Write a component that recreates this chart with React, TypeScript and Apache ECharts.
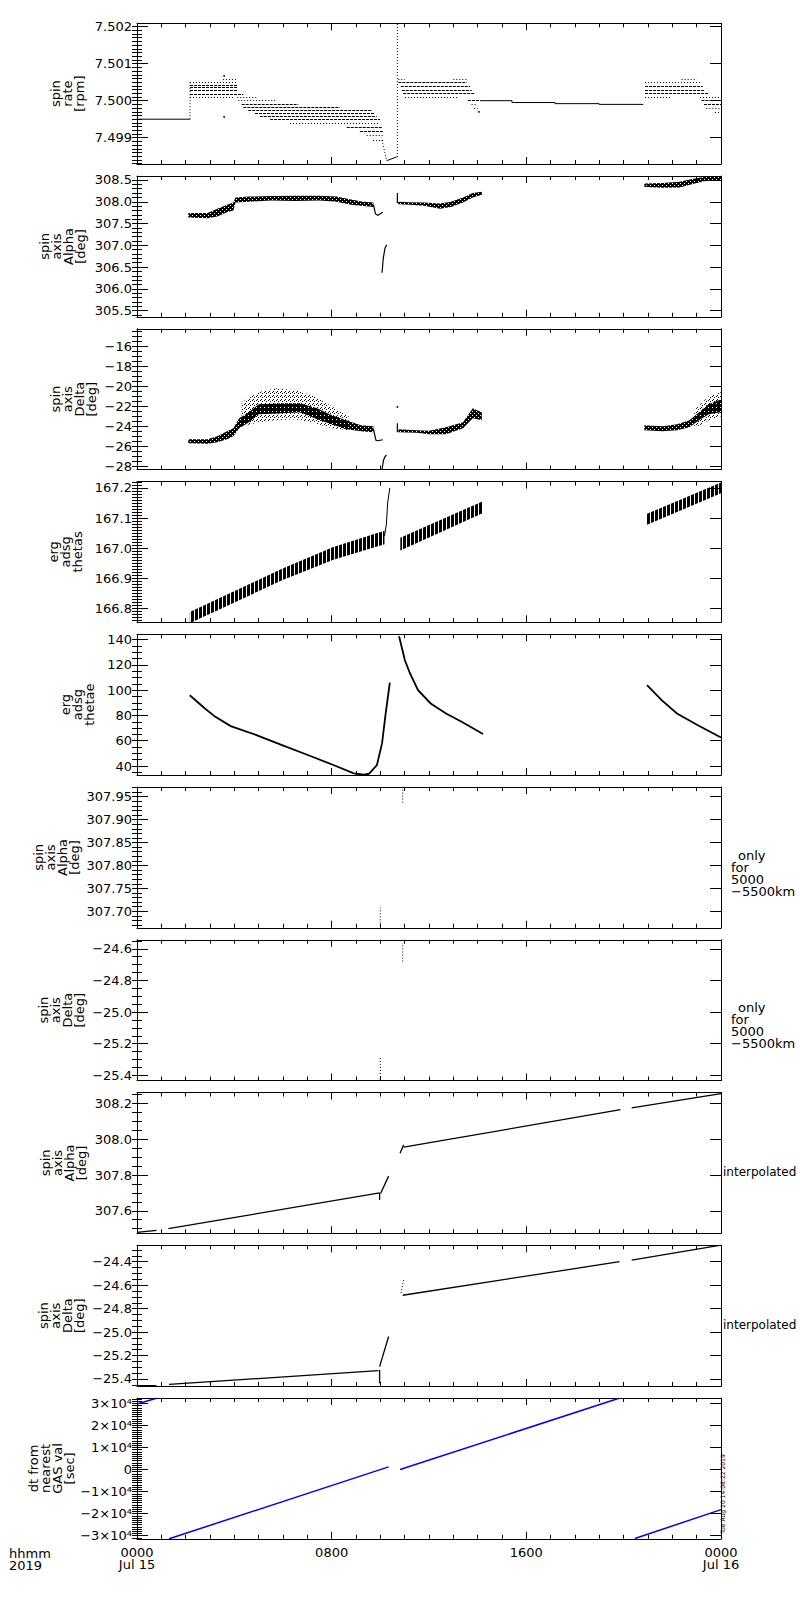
import React, { useEffect, useRef } from 'react';
import * as echarts from 'echarts';

// ---------- layout ----------
const GRID_LEFT = 137;
const GRID_WIDTH = 584;
const GRID_TOP0 = 23.3;
const GRID_STEP = 152.75;
const GRID_HEIGHT = 140.7;
const FONT = '"DejaVu Sans", sans-serif';

// ---------- time axis ----------
const timeTicks = [0, 8, 16, 24];
const timeLabels = ['0000\nJul 15', '0800', '1600', '0000\nJul 16'];

// ---------- panel 1: spin rate [rpm] ----------
const spinRateTicks = [7.499, 7.5, 7.501, 7.502];
const spinRateLabels = ['7.499', '7.500', '7.501', '7.502'];
const spinRateTrace = [
  [[0, 7.4995], [2.18, 7.4995]],
  [[14.1, 7.5], [15.41, 7.5], [15.41, 7.49995], [17.18, 7.49995], [17.18, 7.49992], [18.99, 7.49992], [18.99, 7.4999], [20.81, 7.4999]],
  [[10.26, 7.49838], [10.67, 7.49848]],
];
const spinRateDashed = [
  [2.18, 4.12, 7.50042], [2.18, 4.12, 7.50035], [2.18, 4.12, 7.50027], [2.18, 4.37, 7.50018],
  [4.3, 6.63, 7.4999], [4.37, 8.34, 7.49982], [4.57, 9.64, 7.49973], [4.85, 9.78, 7.49965],
  [5.05, 9.85, 7.49957], [5.47, 9.99, 7.49949], [8.62, 10.06, 7.49929], [9.16, 10.12, 7.49918],
  [10.74, 13.55, 7.50049], [10.84, 13.69, 7.50039], [10.88, 13.75, 7.50028], [10.94, 13.89, 7.5002],
  [13.6, 14.1, 7.5],
  [20.88, 23.25, 7.50039], [20.88, 23.33, 7.50028], [20.88, 23.47, 7.5002], [23.2, 24, 7.5], [23.3, 24, 7.4999],
];
const spinRateDotted = [
  [2.18, 4.12, 7.50051], [2.18, 3.96, 7.50008], [3.53, 4.11, 7.50059], [4.12, 4.92, 7.50008],
  [4.16, 5.74, 7.5], [6.29, 9.99, 7.49939], [9.44, 10.12, 7.49907], [9.7, 10.12, 7.49893],
  [10.74, 11.01, 7.50058], [13.0, 13.55, 7.50058], [11.01, 13.2, 7.50009], [13.75, 14.0, 7.4999],
  [13.85, 14.0, 7.4998], [20.88, 23.21, 7.50049], [22.38, 23.0, 7.50058], [20.88, 21.95, 7.50009],
  [23.14, 24, 7.50009], [23.4, 24, 7.4998], [23.75, 24, 7.4997],
];
const spinRateDottedPaths = [
  [[2.18, 7.4995], [2.18, 7.50051]],
  [[10.06, 7.49893], [10.12, 7.4988], [10.2, 7.49855], [10.26, 7.49838]],
  [[10.7, 7.49848], [10.7, 7.50209]],
];
const spinRateDots = [[3.58, 7.50067], [3.58, 7.49956], [14.05, 7.4997]];

// ---------- panel 2: spin axis Alpha ----------
const alphaTicks = [305.5, 306, 306.5, 307, 307.5, 308, 308.5];
const alphaLabels = ['305.5', '306.0', '306.5', '307.0', '307.5', '308.0', '308.5'];
const alphaBandA = [
  [2.11, 307.64, 307.74], [2.9, 307.62, 307.74], [3.3, 307.66, 307.84], [3.7, 307.76, 307.93],
  [3.96, 307.8, 307.98], [4.05, 307.98, 308.1], [4.6, 308.0, 308.12], [5.5, 308.03, 308.13],
  [6.5, 308.02, 308.14], [7.5, 308.03, 308.14], [8.2, 308.0, 308.12], [8.8, 307.93, 308.05],
  [9.3, 307.9, 308.0], [9.72, 307.88, 307.98],
];
const alphaBandC = [
  [10.74, 307.94, 308.0], [11.2, 307.93, 307.99], [11.8, 307.91, 307.98], [12.45, 307.84, 307.96],
  [12.9, 307.88, 308.0], [13.4, 307.98, 308.1], [13.8, 308.1, 308.2], [14.17, 308.16, 308.23],
];
const alphaBandD = [
  [20.85, 308.34, 308.42], [21.6, 308.32, 308.43], [22.3, 308.33, 308.46], [22.8, 308.4, 308.52],
  [23.3, 308.47, 308.57], [24, 308.5, 308.59],
];
const alphaTraces = [
  [[9.72, 307.93], [9.8, 307.72], [9.9, 307.69], [10.1, 307.76]],
  [[10.07, 306.37], [10.12, 306.7], [10.19, 306.93], [10.26, 307.01]],
  [[10.7, 307.97], [10.7, 308.2]],
  [[10.7, 307.99], [10.76, 307.97]],
];

// ---------- panel 3: spin axis Delta ----------
const deltaTicks = [-28, -26, -24, -22, -20, -18, -16];
const deltaLabels = ['\u221228', '\u221226', '\u221224', '\u221222', '\u221220', '\u221218', '\u221216'];
const deltaBandA = [
  [2.11, -25.7, -25.3], [2.9, -25.75, -25.3], [3.3, -25.6, -25.0], [3.7, -25.3, -24.5],
  [3.96, -25.0, -24.2], [4.2, -24.2, -23.2], [4.6, -23.6, -22.6], [5.0, -22.8, -21.8],
  [6.0, -22.7, -21.7], [6.7, -22.6, -21.7], [7.4, -23.3, -22.2], [8.0, -23.8, -22.9],
  [8.6, -24.3, -23.4], [9.2, -24.5, -23.9], [9.72, -24.6, -24.0],
];
const deltaCloudA = [
  [4.3, -24.0, -21.6], [5.0, -23.6, -20.6], [5.7, -23.4, -20.2], [6.5, -23.3, -20.4],
  [7.2, -23.6, -20.9], [8.0, -24.2, -22.0], [8.7, -24.4, -23.0],
];
const deltaBandC = [
  [10.74, -24.6, -24.3], [11.5, -24.65, -24.4], [12.0, -24.8, -24.45], [12.7, -24.8, -24.1],
  [13.4, -24.2, -23.6], [13.8, -23.2, -22.2], [14.17, -23.4, -22.6],
];
const deltaBandD = [
  [20.85, -24.4, -23.9], [21.6, -24.5, -24.0], [22.2, -24.4, -23.8], [22.7, -24.1, -23.4],
  [23.1, -23.4, -22.6], [23.5, -22.8, -21.8], [24, -22.6, -21.3],
];
const deltaCloudD = [[22.9, -24.2, -22.4], [23.5, -23.4, -21.0], [24, -23.0, -20.6]];
const deltaTraces = [
  [[9.72, -24.3], [9.82, -25.4], [9.9, -25.45], [10.1, -25.35]],
  [[10.07, -28.33], [10.13, -27.4], [10.2, -27.0], [10.26, -26.9]],
  [[10.7, -23.7], [10.7, -24.6]],
];
const deltaDots = [[10.7, -22.06]];

// ---------- panel 4: erg adsg thetas ----------
const thetasTicks = [166.8, 166.9, 167.0, 167.1, 167.2];
const thetasLabels = ['166.8', '166.9', '167.0', '167.1', '167.2'];
const thetasBand1 = [[2.17, 166.752, 166.789], [5.96, 166.894, 166.932], [8.07, 166.962, 167.004], [10.17, 167.013, 167.058]];
const thetasBand2 = [[10.82, 166.993, 167.035], [14.22, 167.117, 167.156]];
const thetasBand3 = [[20.96, 167.078, 167.114], [24, 167.182, 167.218]];
const thetasTraces = [[[10.17, 167.04], [10.25, 167.08], [10.3, 167.15], [10.39, 167.2]]];

// ---------- panel 5: erg adsg thetae ----------
const thetaeTicks = [40, 60, 80, 100, 120, 140];
const thetaeLabels = ['40', '60', '80', '100', '120', '140'];
const thetaeCurve1 = [
  [2.17, 96], [2.79, 85.5], [3.22, 78.9], [3.85, 71.6], [4.91, 64.5], [5.96, 56.6], [7.02, 48.7],
  [8.07, 40.8], [8.91, 34.2], [9.33, 33.1], [9.54, 34.0], [9.86, 40.8], [10.07, 57.9], [10.22, 81.6], [10.39, 106],
];
const thetaeCurve2 = [[10.77, 142.6], [11.01, 123.7], [11.22, 113.2], [11.55, 100], [12.07, 89.5], [12.7, 81.6], [13.34, 75], [14.22, 65.3]];
const thetaeCurve3 = [[20.96, 103.9], [21.56, 92.1], [22.19, 81.6], [23.03, 72.4], [24, 62.6]];

// ---------- panel 6: Alpha only for 5000-5500km ----------
const alphaOnlyTicks = [307.7, 307.75, 307.8, 307.85, 307.9, 307.95];
const alphaOnlyLabels = ['307.70', '307.75', '307.80', '307.85', '307.90', '307.95'];
const alphaOnlyTraces = [[[10.0, 307.667], [10.0, 307.708]], [[10.92, 307.937], [10.92, 307.972]]];

// ---------- panel 7: Delta only for 5000-5500km ----------
const deltaOnlyTicks = [-25.4, -25.2, -25.0, -24.8, -24.6];
const deltaOnlyLabels = ['\u221225.4', '\u221225.2', '\u221225.0', '\u221224.8', '\u221224.6'];
const deltaOnlyTraces = [[[10.0, -25.43], [10.0, -25.29]], [[10.92, -24.68], [10.92, -24.564]]];

// ---------- panel 8: Alpha interpolated ----------
const alphaInterpTicks = [307.6, 307.8, 308.0, 308.2];
const alphaInterpLabels = ['307.6', '307.8', '308.0', '308.2'];
const alphaInterpLines = [
  [[0, 307.479], [0.8, 307.49]],
  [[1.29, 307.5], [9.97, 307.7]],
  [[9.97, 307.7], [9.97, 307.66]],
  [[10.01, 307.697], [10.34, 307.794]],
  [[10.81, 307.922], [10.96, 307.969]],
  [[10.96, 307.956], [19.87, 308.166]],
  [[20.33, 308.176], [24, 308.256]],
];

// ---------- panel 9: Delta interpolated ----------
const deltaInterpTicks = [-25.4, -25.2, -25.0, -24.8, -24.6, -24.4];
const deltaInterpLabels = ['\u221225.4', '\u221225.2', '\u221225.0', '\u221224.8', '\u221224.6', '\u221224.4'];
const deltaInterpLines = [
  [[0, -25.458], [0.8, -25.458]],
  [[1.32, -25.446], [9.92, -25.329]],
  [[9.97, -25.323], [9.97, -25.437]],
  [[9.97, -25.295], [10.34, -25.038]],
  [[10.92, -24.686], [19.83, -24.4]],
  [[20.33, -24.386], [24, -24.258]],
];
const deltaInterpDotted = [[[10.85, -24.666], [10.96, -24.552]]];

// ---------- panel 10: dt from nearest GAS val [sec] ----------
const dtTicks = [-30000, -20000, -10000, 0, 10000, 20000, 30000];
const dtLabels = ['\u22123\u00d710\u2074', '\u22122\u00d710\u2074', '\u22121\u00d710\u2074', '0', '1\u00d710\u2074', '2\u00d710\u2074', '3\u00d710\u2074'];
const dtLines = [
  [[0, 29700], [0.8, 32300]],
  [[1.32, -31400], [10.34, 1200]],
  [[10.81, 0], [19.81, 32300]],
  [[20.46, -31300], [24, -18200]],
];

// ---------- panel axis definitions ----------
const panels = [
  { name: 'spin\nrate\n[rpm]', min: 7.49829, max: 7.50209, ticks: spinRateTicks, labels: spinRateLabels, minor: 0.0001, nameRight: 85 },
  { name: 'spin\naxis\nAlpha\n[deg]', min: 305.36, max: 308.59, ticks: alphaTicks, labels: alphaLabels, minor: 0.1, nameRight: 86 },
  { name: 'spin\naxis\nDelta\n[deg]', min: -28.33, max: -14.24, ticks: deltaTicks, labels: deltaLabels, minor: 0.5, nameRight: 97 },
  { name: 'erg\nadsg\nthetas', min: 166.755, max: 167.221, ticks: thetasTicks, labels: thetasLabels, minor: 0.01, nameRight: 83 },
  { name: 'erg\nadsg\nthetae', min: 32.9, max: 144.2, ticks: thetaeTicks, labels: thetaeLabels, minor: 5, nameRight: 95 },
  { name: 'spin\naxis\nAlpha\n[deg]', min: 307.664, max: 307.971, ticks: alphaOnlyTicks, labels: alphaOnlyLabels, minor: 0.01, nameRight: 80 },
  { name: 'spin\naxis\nDelta\n[deg]', min: -25.433, max: -24.543, ticks: deltaOnlyTicks, labels: deltaOnlyLabels, minor: 0.05, nameRight: 85 },
  { name: 'spin\naxis\nAlpha\n[deg]', min: 307.474, max: 308.262, ticks: alphaInterpTicks, labels: alphaInterpLabels, minor: 0.05, nameRight: 87 },
  { name: 'spin\naxis\nDelta\n[deg]', min: -25.46, max: -24.26, ticks: deltaInterpTicks, labels: deltaInterpLabels, minor: 0.05, nameRight: 85 },
  { name: 'dt from\nnearest\nGAS val\n[sec]', min: -31400, max: 32400, ticks: dtTicks, labels: dtLabels, minor: 1000, nameRight: 75 },
];

// fill textures (styling only): rows of a small repeating bitmap, '1' = black pixel
const denseTexture = ['1111', '1101', '1111', '0111'];
const sparseTexture = ['1000', '0010', '0000', '0100'];
const stripeTexture = ['1101', '1101', '1101', '1101'];

function makePattern(rows: string[]): any {
  if (typeof document === 'undefined') return '#000';
  const h = rows.length;
  const w = rows[0].length;
  const c = document.createElement('canvas');
  c.width = w;
  c.height = h;
  const ctx = c.getContext('2d');
  if (!ctx) return '#000';
  ctx.fillStyle = '#000';
  rows.forEach((r, y) => {
    for (let x = 0; x < w; x++) if (r[x] === '1') ctx.fillRect(x, y, 1, 1);
  });
  return { image: c, repeat: 'repeat' };
}

function minorValues(min: number, max: number, step: number) {
  const out: number[] = [];
  const start = Math.ceil(min / step - 1e-9);
  const end = Math.floor(max / step + 1e-9);
  for (let k = start; k <= end; k++) out.push(+(k * step).toFixed(10));
  return out;
}

const gridTop = (i: number) => GRID_TOP0 + GRID_STEP * i;

function stepSeries(steps: number[][], i: number, type: any, width = 1) {
  return {
    type: 'lines', coordinateSystem: 'cartesian2d', xAxisIndex: 2 * i, yAxisIndex: 4 * i,
    polyline: false, silent: true, clip: true,
    lineStyle: { color: '#000', width, type, opacity: 1, curveness: 0 },
    data: steps.map(([h0, h1, v]) => ({ coords: [[h0, v], [h1, v]] })),
  };
}

function pathSeries(paths: number[][][], i: number, type: any, width = 1, color = '#000') {
  return {
    type: 'lines', coordinateSystem: 'cartesian2d', xAxisIndex: 2 * i, yAxisIndex: 4 * i,
    polyline: true, silent: true, clip: true,
    lineStyle: { color, width, type, opacity: 1, curveness: 0 },
    data: paths.map((p) => ({ coords: p })),
  };
}

function dotSeries(pts: number[][], i: number) {
  return {
    type: 'scatter', xAxisIndex: 2 * i, yAxisIndex: 4 * i, silent: true,
    symbolSize: 2, itemStyle: { color: '#000' }, data: pts,
  };
}

function bandSeries(pts: number[][], i: number, fill: any) {
  return {
    type: 'custom', xAxisIndex: 2 * i, yAxisIndex: 4 * i, clip: true, silent: true,
    data: pts, encode: { x: 0, y: [1, 2] },
    renderItem: (params: any, api: any) => {
      if (params.dataIndex !== 0) return null;
      const lower = pts.map((p) => api.coord([p[0], p[1]]));
      const upper = pts.map((p) => api.coord([p[0], p[2]])).reverse();
      return {
        type: 'polygon',
        shape: { points: lower.concat(upper) },
        style: { fill, stroke: null, lineWidth: 0 },
      };
    },
  };
}

function buildOption() {
  const grid: any[] = [];
  const xAxis: any[] = [];
  const yAxis: any[] = [];
  const graphic: any[] = [];
  const dense = makePattern(denseTexture);
  const sparse = makePattern(sparseTexture);
  const stripe = makePattern(stripeTexture);

  panels.forEach((p, i) => {
    grid.push({ left: GRID_LEFT, width: GRID_WIDTH, top: gridTop(i), height: GRID_HEIGHT, containLabel: false, outerBoundsMode: 'none' });
    (['bottom', 'top'] as const).forEach((pos) => {
      const showLabel = pos === 'bottom' && i === panels.length - 1;
      xAxis.push({
        type: 'value', gridIndex: i, position: pos, min: 0, max: 24, interval: 8,
        axisLine: { show: true, onZero: false, lineStyle: { color: '#000', width: 1 } },
        axisTick: { show: true, inside: true, length: 7, lineStyle: { color: '#000', width: 1 } },
        minorTick: { show: true, splitNumber: 8, length: 4, lineStyle: { color: '#000', width: 1 } },
        splitLine: { show: false },
        minorSplitLine: { show: false },
        axisLabel: showLabel
          ? {
              show: true, color: '#000', fontFamily: FONT, fontSize: 13, lineHeight: 12, margin: 8,
              showMinLabel: true, showMaxLabel: true,
              formatter: (v: number) => {
                const k = timeTicks.findIndex((t) => Math.abs(t - v) < 1e-6);
                return k >= 0 ? timeLabels[k] : '';
              },
            }
          : { show: false },
      });
    });
    const minors = minorValues(p.min, p.max, p.minor);
    (['left', 'right'] as const).forEach((pos) => {
      yAxis.push({
        type: 'value', gridIndex: i, position: pos, min: p.min, max: p.max,
        axisLine: { show: true, onZero: false, lineStyle: { color: '#000', width: 1 } },
        axisTick: { show: true, inside: true, length: 11, customValues: p.ticks, lineStyle: { color: '#000', width: 1 } },
        splitLine: { show: false },
        axisLabel: pos === 'left'
          ? {
              show: true, customValues: p.ticks, color: '#000', fontFamily: FONT, fontSize: 13, margin: 5,
              showMinLabel: true, showMaxLabel: true,
              formatter: (v: number) => {
                let best = 0;
                p.ticks.forEach((t, k) => { if (Math.abs(t - v) < Math.abs(p.ticks[best] - v)) best = k; });
                return p.labels[best];
              },
            }
          : { show: false },
      });
      yAxis.push({
        type: 'value', gridIndex: i, position: pos, min: p.min, max: p.max,
        axisLine: { show: false },
        axisTick: { show: true, inside: true, length: 5, customValues: minors, lineStyle: { color: '#000', width: 1 } },
        splitLine: { show: false },
        axisLabel: { show: false },
      });
    });
    graphic.push({
      type: 'text', silent: true, x: p.nameRight, y: gridTop(i) + GRID_HEIGHT / 2, rotation: Math.PI / 2,
      style: { text: p.name, fill: '#000', fontFamily: FONT, fontSize: 13, lineHeight: 12, align: 'center', verticalAlign: 'bottom', textAlign: 'center', textVerticalAlign: 'bottom' },
    });
  });

  const rightText = (text: string, x: number, y: number, va = 'top', size = 13) => ({
    type: 'text', silent: true, x, y,
    style: { text, fill: '#000', fontFamily: FONT, fontSize: size, lineHeight: 12, align: 'left', verticalAlign: va, textAlign: 'left', textVerticalAlign: va },
  });
  graphic.push(rightText('only', 738, 849));
  graphic.push(rightText('for\n5000\n\u22125500km', 731, 861));
  graphic.push(rightText('only', 738, 1001));
  graphic.push(rightText('for\n5000\n\u22125500km', 731, 1013));
  graphic.push(rightText('interpolated', 723, 1172, 'middle', 12));
  graphic.push(rightText('interpolated', 723, 1325, 'middle', 12));
  graphic.push(rightText('hhmm\n2019', 9, 1547));
  graphic.push({
    type: 'text', silent: true, x: 722, y: 1494, rotation: Math.PI / 2,
    style: { text: 'Tue Aug 20 14:08:22 2019', fill: '#000', fontFamily: FONT, fontSize: 6, align: 'center', verticalAlign: 'middle', textAlign: 'center', textVerticalAlign: 'middle' },
  });

  const series: any[] = [
    // panel 1
    pathSeries(spinRateTrace, 0, 'solid'),
    stepSeries(spinRateDashed, 0, [3, 1]),
    stepSeries(spinRateDotted, 0, [1, 2]),
    pathSeries(spinRateDottedPaths, 0, [1, 2]),
    dotSeries(spinRateDots, 0),
    // panel 2
    bandSeries(alphaBandA, 1, dense), bandSeries(alphaBandC, 1, dense), bandSeries(alphaBandD, 1, dense),
    pathSeries(alphaTraces, 1, 'solid', 1.2),
    // panel 3
    bandSeries(deltaCloudA, 2, sparse), bandSeries(deltaCloudD, 2, sparse),
    bandSeries(deltaBandA, 2, dense), bandSeries(deltaBandC, 2, dense), bandSeries(deltaBandD, 2, dense),
    pathSeries(deltaTraces, 2, 'solid', 1.2),
    dotSeries(deltaDots, 2),
    // panel 4
    bandSeries(thetasBand1, 3, stripe), bandSeries(thetasBand2, 3, stripe), bandSeries(thetasBand3, 3, stripe),
    pathSeries(thetasTraces, 3, 'solid', 1),
    // panel 5
    pathSeries([thetaeCurve1, thetaeCurve2, thetaeCurve3], 4, 'solid', 1.8),
    // panel 6, 7
    pathSeries(alphaOnlyTraces, 5, [1, 2], 1),
    pathSeries(deltaOnlyTraces, 6, [1, 2], 1),
    // panel 8, 9
    pathSeries(alphaInterpLines, 7, 'solid', 1.3),
    pathSeries(deltaInterpLines, 8, 'solid', 1.3),
    pathSeries(deltaInterpDotted, 8, [1, 2], 1),
    // panel 10
    pathSeries(dtLines, 9, 'solid', 1.5, '#0000ff'),
  ];

  return {
    animation: false,
    backgroundColor: '#fff',
    grid, xAxis, yAxis, series, graphic,
  };
}

export default function App() {
  const ref = useRef<HTMLDivElement>(null);
  useEffect(() => {
    if (!ref.current) return;
    const chart = echarts.init(ref.current, null, { renderer: 'svg', width: 800, height: 1600 });
    chart.setOption(buildOption() as any);
    return () => chart.dispose();
  }, []);
  return <div ref={ref} style={{ position: 'absolute', left: 0, top: 0, width: 800, height: 1600, background: '#fff' }} />;
}
